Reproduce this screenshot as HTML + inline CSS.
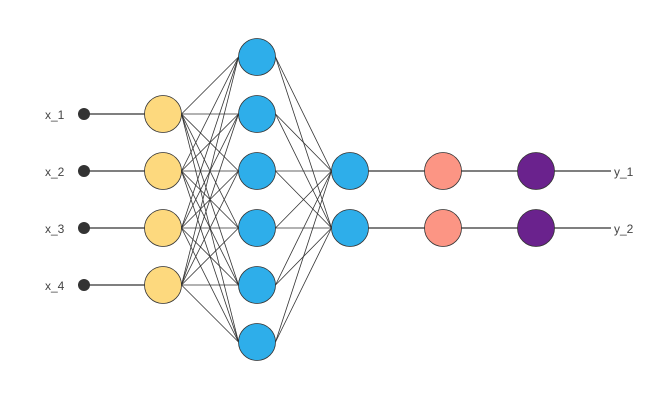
<!DOCTYPE html>
<html><head><style>body{margin:0;background:#fff}svg{display:block}</style></head><body>
<svg width="667" height="420" xmlns="http://www.w3.org/2000/svg" font-family="Liberation Sans, sans-serif">
<g stroke="#333" stroke-width="0.8" id="e"></g>
<script>
var ns="http://www.w3.org/2000/svg",g=document.getElementById('e');
function L(a,b,c,d,w){var l=document.createElementNS(ns,'line');l.setAttribute('x1',a);l.setAttribute('y1',b);l.setAttribute('x2',c);l.setAttribute('y2',d);if(w)l.setAttribute('stroke-width',w);g.appendChild(l);}
var r=18.5,in4=[114,171,228,285],h6=[57,114,171,228,285,342],o2=[171,228];
in4.forEach(function(y){L(84,y,163-r,y,1.2);});
in4.forEach(function(a){h6.forEach(function(b){L(163+r,a,257-r,b);});});
h6.forEach(function(a){o2.forEach(function(b){L(257+r,a,350-r,b);});});
o2.forEach(function(y){L(350+r,y,443-r,y,1.2);L(443+r,y,536-r,y,1.2);L(536+r,y,611,y,1.2);});
</script>
<g fill="#333"><circle cx="84" cy="114" r="6"/><circle cx="84" cy="171" r="6"/><circle cx="84" cy="228" r="6"/><circle cx="84" cy="285" r="6"/></g>
<g stroke="#333" stroke-width="0.8">
<g fill="#fdd97e"><circle cx="163" cy="114" r="18.5"/><circle cx="163" cy="171" r="18.5"/><circle cx="163" cy="228" r="18.5"/><circle cx="163" cy="285" r="18.5"/></g>
<g fill="#2eaeea"><circle cx="257" cy="57" r="18.5"/><circle cx="257" cy="114" r="18.5"/><circle cx="257" cy="171" r="18.5"/><circle cx="257" cy="228" r="18.5"/><circle cx="257" cy="285" r="18.5"/><circle cx="257" cy="342" r="18.5"/>
<circle cx="350" cy="171" r="18.5"/><circle cx="350" cy="228" r="18.5"/></g>
<g fill="#fc9584"><circle cx="443" cy="171" r="18.5"/><circle cx="443" cy="228" r="18.5"/></g>
<g fill="#6a228d"><circle cx="536" cy="171" r="18.5"/><circle cx="536" cy="228" r="18.5"/></g>
</g>
<g fill="#444" font-size="12">
<text x="45" y="119">x_1</text><text x="45" y="176">x_2</text><text x="45" y="233">x_3</text><text x="45" y="290">x_4</text>
<text x="614" y="176">y_1</text><text x="614" y="233">y_2</text>
</g>
</svg>
</body></html>
